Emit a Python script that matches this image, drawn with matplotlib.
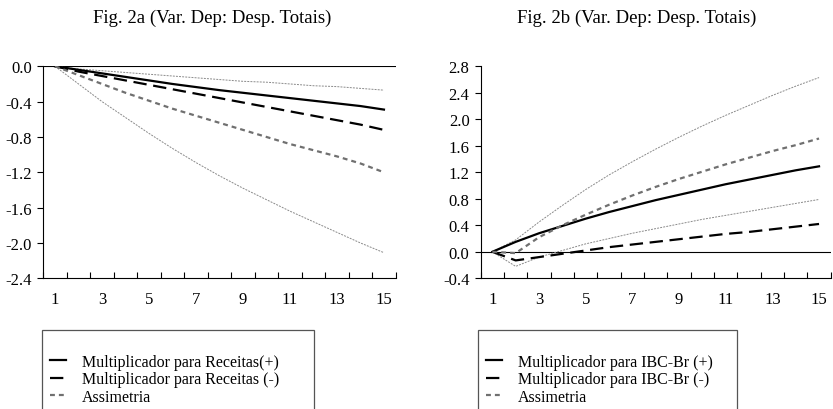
import numpy as np
import matplotlib
matplotlib.use('Agg')
import matplotlib.pyplot as plt

plt.rcParams['font.family'] = ['Liberation Serif', 'DejaVu Serif']

periods = np.arange(1, 16)

# Fig. 2a - Receitas
a_pos = [0, -0.04, -0.08, -0.12, -0.16, -0.20, -0.235, -0.27, -0.30, -0.33, -0.36, -0.39, -0.42, -0.45, -0.49]
a_neg = [0, -0.06, -0.11, -0.16, -0.21, -0.26, -0.31, -0.36, -0.41, -0.46, -0.51, -0.56, -0.61, -0.66, -0.72]
a_asym = [0, -0.10, -0.20, -0.30, -0.39, -0.48, -0.56, -0.64, -0.72, -0.80, -0.88, -0.95, -1.02, -1.10, -1.20]
a_up = [0, -0.03, -0.05, -0.07, -0.09, -0.11, -0.13, -0.15, -0.17, -0.18, -0.20, -0.22, -0.23, -0.25, -0.27]
a_lo = [0, -0.20, -0.40, -0.58, -0.76, -0.93, -1.09, -1.24, -1.38, -1.51, -1.64, -1.76, -1.88, -2.00, -2.11]

# Fig. 2b - IBC-Br
b_pos = [0, 0.15, 0.28, 0.39, 0.50, 0.60, 0.69, 0.78, 0.86, 0.94, 1.02, 1.09, 1.16, 1.23, 1.29]
b_neg = [0, -0.13, -0.08, -0.03, 0.02, 0.07, 0.11, 0.15, 0.19, 0.23, 0.27, 0.30, 0.34, 0.38, 0.42]
b_asym = [0, -0.02, 0.22, 0.40, 0.56, 0.71, 0.85, 0.98, 1.10, 1.21, 1.32, 1.42, 1.52, 1.61, 1.71]
b_up = [0, 0.18, 0.45, 0.70, 0.94, 1.16, 1.36, 1.55, 1.73, 1.90, 2.06, 2.21, 2.36, 2.50, 2.63]
b_lo = [0, -0.22, -0.08, 0.02, 0.12, 0.20, 0.28, 0.35, 0.42, 0.49, 0.55, 0.61, 0.67, 0.73, 0.79]

a_yticks = [-2.4, -2.0, -1.6, -1.2, -0.8, -0.4, 0.0]
b_yticks = [-0.4, 0.0, 0.4, 0.8, 1.2, 1.6, 2.0, 2.4, 2.8]
x_labels = ['1', '3', '5', '7', '9', '11', '13', '15']

titles = ['Fig. 2a (Var. Dep: Desp. Totais)', 'Fig. 2b (Var. Dep: Desp. Totais)']
labels_a = ['Multiplicador para Receitas(+)', 'Multiplicador para Receitas (-)', 'Assimetria']
labels_b = ['Multiplicador para IBC-Br (+)', 'Multiplicador para IBC-Br (-)', 'Assimetria']

W, H = 833, 410
fig = plt.figure(figsize=(8.33, 4.10), dpi=100)
ax1 = fig.add_axes([43.3 / W, 1 - 279.3 / H, 352.4 / W, 212 / H])
ax2 = fig.add_axes([480.7 / W, 1 - 279.3 / H, 350 / W, 212 / H])

panels = [
    (ax1, a_pos, a_neg, a_asym, a_up, a_lo, labels_a, a_yticks, 212, (42, 314)),
    (ax2, b_pos, b_neg, b_asym, b_up, b_lo, labels_b, b_yticks, 637, (478, 737)),
]

for k, (ax, pos, neg, asym, up, lo, labels, yt, tx, box) in enumerate(panels):
    ax.axhline(0, color='black', lw=0.8, zorder=1)
    ax.plot(periods, up, color='#8a8a8a', lw=0.7, dashes=(2, 1.2))
    ax.plot(periods, lo, color='#8a8a8a', lw=0.7, dashes=(2, 1.2))
    l1, = ax.plot(periods, pos, color='black', lw=1.6)
    l2, = ax.plot(periods, neg, color='black', lw=1.6, dashes=(6, 3))
    l3, = ax.plot(periods, asym, color='#707070', lw=1.6, dashes=(2.2, 1.8))
    ax.set_xlim(0.5, 15.5)
    ax.set_ylim(yt[0], yt[-1])
    ax.set_yticks(yt)
    ax.set_yticklabels(['%.1f' % v for v in yt])
    ax.set_xticks(np.arange(0.5, 15.6, 1))
    ax.set_xticklabels([])
    ax.set_xticks(periods[::2], minor=True)
    ax.set_xticklabels(x_labels, minor=True)
    ax.tick_params(axis='x', which='major', direction='in', length=4, width=0.8)
    ax.tick_params(axis='x', which='minor', length=0, pad=9, labelsize=12)
    ax.tick_params(axis='y', direction='out', length=4, width=0.8, pad=4, labelsize=12)
    for s in ['top', 'right']:
        ax.spines[s].set_visible(False)
    for s in ['left', 'bottom']:
        ax.spines[s].set_linewidth(0.8)
    fig.text(tx / W, 1 - 18 / H, titles[k], fontsize=13.5, ha='center', va='center')

    # legend box (runs past the bottom edge, as in the source)
    fig.add_artist(plt.Rectangle((box[0] / W, -0.1), (box[1] - box[0]) / W, (H - 331) / H + 0.1,
                                 transform=fig.transFigure, fill=False, ec='#555555', lw=0.9))
    ax.legend([l1, l2, l3], labels, loc='upper left',
              bbox_to_anchor=((box[0] + 8) / W, 1 - 355 / H), bbox_transform=fig.transFigure,
              fontsize=11.5, frameon=False, handlelength=1.0, handletextpad=1.0,
              labelspacing=0.08, borderpad=0, borderaxespad=0)

plt.savefig('out.png', dpi=100)
